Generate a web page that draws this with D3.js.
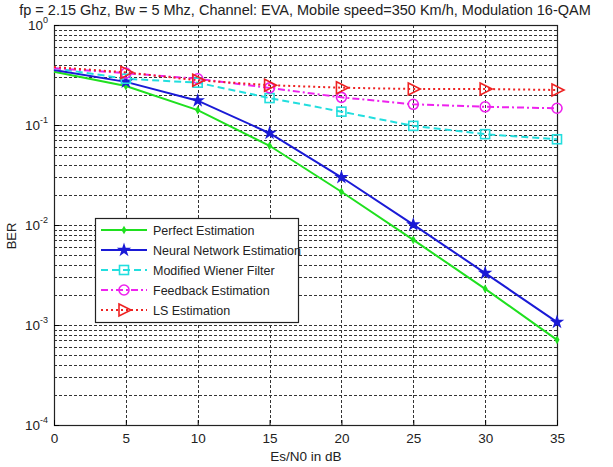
<!DOCTYPE html>
<html lang="en">
<head>
<meta charset="utf-8">
<title>BER vs Es/N0</title>
<script src="https://d3js.org/d3.v7.min.js"></script>
<style>
  body { margin: 0; background: #fff; }
  text { font-family: Arial, "Liberation Sans", sans-serif; fill: #222; }
</style>
</head>
<body>
<script>
// data
var snr = [0, 5, 10, 15, 20, 25, 30, 35];
var perfect  = [0.34, 0.245, 0.141, 0.062, 0.0215, 0.0071, 0.0023, 0.00071];
var neural   = [0.355, 0.27, 0.175, 0.083, 0.030, 0.0101, 0.0033, 0.00107];
var wiener   = [0.37, 0.29, 0.265, 0.186, 0.136, 0.098, 0.081, 0.072];
var feedback = [0.37, 0.33, 0.29, 0.235, 0.189, 0.161, 0.152, 0.147];
var lsEst    = [0.38, 0.336, 0.28, 0.25, 0.236, 0.229, 0.229, 0.224];
var xTicks = [0, 5, 10, 15, 20, 25, 30, 35];
var yDecades = [-4, -3, -2, -1, 0];

var series = [
  {name: "Perfect Estimation", values: perfect, color: "#1fe01f", dash: null, marker: "plus"},
  {name: "Neural Network Estimation", values: neural, color: "#1a1ad6", dash: null, marker: "star"},
  {name: "Modified Wiener Filter", values: wiener, color: "#22dede", dash: "7,4", marker: "square"},
  {name: "Feedback Estimation", values: feedback, color: "#ee22ee", dash: "7,3,2,3", marker: "circle"},
  {name: "LS Estimation", values: lsEst, color: "#ee2222", dash: "2,3", marker: "triangle"}
];

var w = 613, h = 467;
var mLeft = 54, mRight = 557, mTop = 25, mBottom = 425;

var svg = d3.select("body").append("svg")
  .attr("width", w).attr("height", h);

var x = d3.scaleLinear().domain([0, 35]).range([mLeft, mRight]);
var y = d3.scaleLog().domain([1e-4, 1]).range([mBottom, mTop]);

// grid
var grid = svg.append("g").attr("stroke", "#333").attr("stroke-width", 1)
  .attr("stroke-dasharray", "3,2").attr("fill", "none");
var minor = [];
for (var e = -4; e < 0; e++) {
  for (var m = 1; m < 10; m++) minor.push(m * Math.pow(10, e));
}
minor.push(1);
grid.selectAll("line.h").data(minor).enter().append("line")
  .attr("x1", mLeft).attr("x2", mRight)
  .attr("y1", function(d) { return Math.round(y(d)) + 0.5; })
  .attr("y2", function(d) { return Math.round(y(d)) + 0.5; });
grid.selectAll("line.v").data(xTicks).enter().append("line")
  .attr("y1", mTop).attr("y2", mBottom)
  .attr("x1", function(d) { return Math.round(x(d)) + 0.5; })
  .attr("x2", function(d) { return Math.round(x(d)) + 0.5; });

// frame
svg.append("rect")
  .attr("x", mLeft + 0.5).attr("y", mTop + 0.5)
  .attr("width", mRight - mLeft).attr("height", mBottom - mTop)
  .attr("fill", "none").attr("stroke", "#222").attr("stroke-width", 1.2);

// axes with inward ticks
var xAxis = d3.axisBottom(x).tickValues(xTicks).tickSize(-5).tickPadding(8);
var gx = svg.append("g").attr("transform", "translate(0," + mBottom + ")").call(xAxis);
gx.select(".domain").remove();
gx.selectAll("text").attr("font-size", 13.5).style("font-family", "Arial, 'Liberation Sans', sans-serif").attr("fill", "#222");

var yAxis = d3.axisLeft(y).tickValues(yDecades.map(function(d) { return Math.pow(10, d); }))
  .tickSize(-5).tickFormat("");
var gy = svg.append("g").attr("transform", "translate(" + mLeft + ",0)").call(yAxis);
gy.select(".domain").remove();

// decade labels 10^n
var yl = svg.append("g");
yDecades.forEach(function(d) {
  var t = yl.append("text")
    .attr("x", mLeft - 6).attr("y", y(Math.pow(10, d)) + 5)
    .attr("text-anchor", "end").attr("font-size", 13.5);
  t.append("tspan").text("10");
  t.append("tspan").attr("dy", -7).attr("font-size", 9).text(d);
});

// lines and markers
var line = d3.line()
  .x(function(d, i) { return x(snr[i]); })
  .y(function(d) { return y(d); });

function drawMarker(g, type, color, cx, cy) {
  if (type === "plus") {
    g.append("path").attr("d", d3.symbol().type(d3.symbolDiamond).size(22)())
      .attr("transform", "translate(" + cx + "," + cy + ")").attr("fill", color);
  } else if (type === "star") {
    g.append("path").attr("d", d3.symbol().type(d3.symbolStar).size(65)())
      .attr("transform", "translate(" + cx + "," + cy + ")").attr("fill", color);
  } else if (type === "square") {
    g.append("rect").attr("x", cx - 4.5).attr("y", cy - 4.5).attr("width", 9).attr("height", 9)
      .attr("fill", "none").attr("stroke", color).attr("stroke-width", 1.6);
  } else if (type === "circle") {
    g.append("circle").attr("cx", cx).attr("cy", cy).attr("r", 5)
      .attr("fill", "none").attr("stroke", color).attr("stroke-width", 1.6);
  } else if (type === "triangle") {
    g.append("path").attr("d", "M" + (cx - 5) + "," + (cy - 6) + "L" + (cx + 7) + "," + cy + "L" + (cx - 5) + "," + (cy + 6) + "Z")
      .attr("fill", "none").attr("stroke", color).attr("stroke-width", 1.6);
  }
}

var plot = svg.append("g");
series.forEach(function(s) {
  plot.append("path").datum(s.values)
    .attr("d", line)
    .attr("fill", "none").attr("stroke", s.color).attr("stroke-width", 2)
    .attr("stroke-dasharray", s.dash);
});
// no markers are visible at 0 dB in the reference
series.forEach(function(s) {
  s.values.forEach(function(v, i) {
    if (i > 0) drawMarker(plot, s.marker, s.color, x(snr[i]), y(v));
  });
});

// legend
var lg = svg.append("g").attr("transform", "translate(95,218)");
lg.append("rect").attr("x", 0.5).attr("y", 0.5).attr("width", 203).attr("height", 104)
  .attr("fill", "#fff").attr("stroke", "#222").attr("stroke-width", 1.2);
series.forEach(function(s, i) {
  var cy = 12 + i * 20;
  lg.append("line").attr("x1", 6).attr("x2", 52).attr("y1", cy).attr("y2", cy)
    .attr("stroke", s.color).attr("stroke-width", 2).attr("stroke-dasharray", s.dash);
  drawMarker(lg, s.marker, s.color, 29, cy);
  lg.append("text").attr("x", 58).attr("y", cy + 4.5).attr("font-size", 12.5).text(s.name);
});

// title and labels
svg.append("text").attr("x", 305).attr("y", 15).attr("text-anchor", "middle")
  .attr("font-size", 14.5).text("fp = 2.15 Ghz, Bw = 5 Mhz, Channel: EVA, Mobile speed=350 Km/h, Modulation 16-QAM");
svg.append("text").attr("x", 306).attr("y", 461).attr("text-anchor", "middle")
  .attr("font-size", 13.5).text("Es/N0 in dB");
svg.append("text").attr("transform", "translate(16,236) rotate(-90)")
  .attr("text-anchor", "middle").attr("font-size", 13).text("BER");
</script>
</body>
</html>
